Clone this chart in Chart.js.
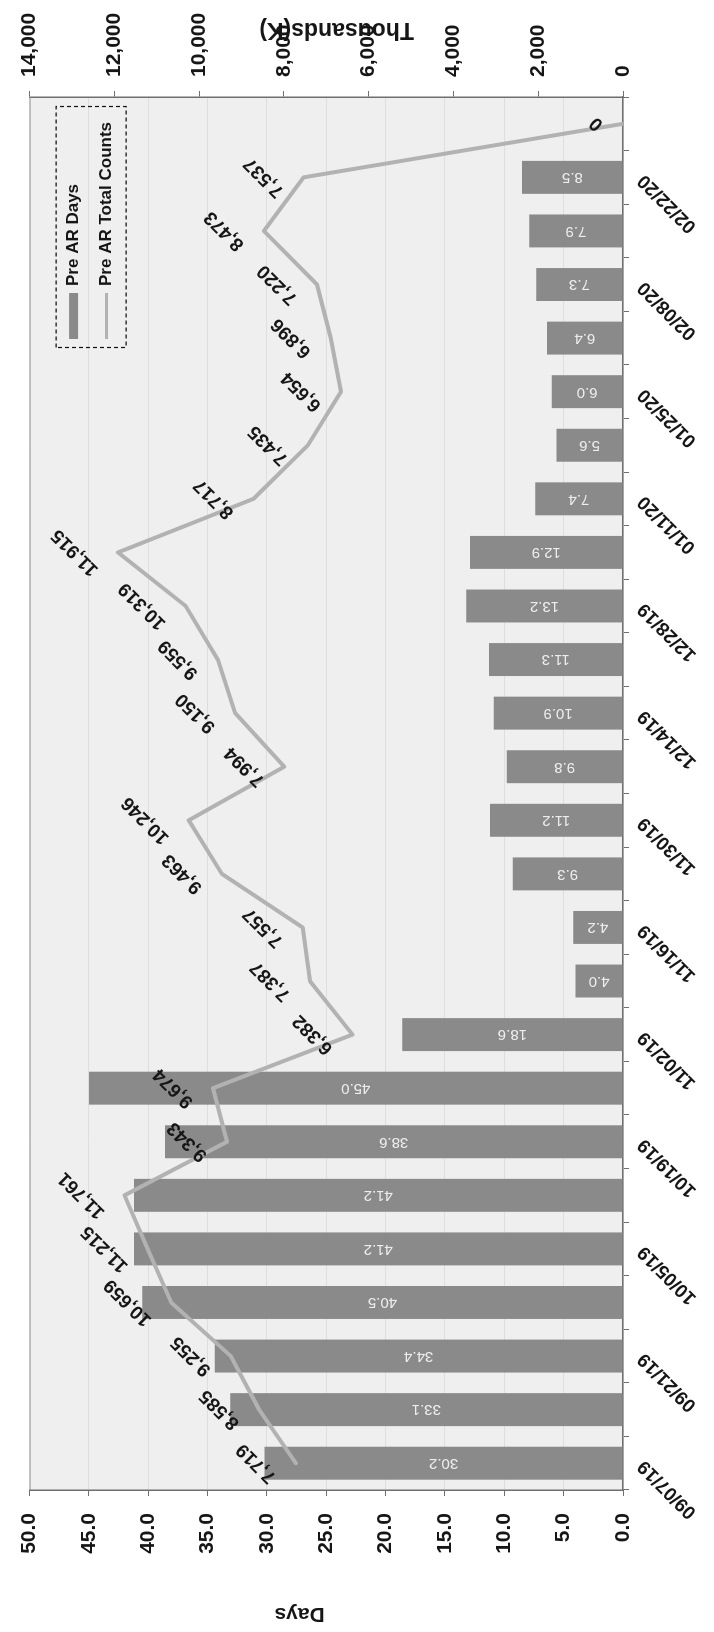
<!DOCTYPE html>
<html>
<head>
<meta charset="utf-8">
<title>Pre AR Days and Pre AR Total Counts</title>
<script src="https://cdn.jsdelivr.net/npm/chart.js@4.4.1/dist/chart.umd.min.js"></script>
<style>
  html, body { margin: 0; padding: 0; background: #ffffff; overflow: hidden; }
  body { width: 714px; height: 1632px; position: relative; }
  /* The chart is laid out landscape and turned a quarter turn counter-clockwise on the page */
  #frame {
    position: absolute; left: 0; top: 0;
    width: 1632px; height: 714px;
    transform-origin: 0 0;
    transform: translate(0, 1632px) rotate(-90deg);
  }
  canvas { display: block; }
</style>
</head>
<body>
<div id="frame"><canvas id="chart" width="1632" height="714"></canvas></div>
<script>
// Week-ending dates (category axis)
const weekDates = [
  '09/07/19', '09/14/19', '09/21/19', '09/28/19', '10/05/19', '10/12/19', '10/19/19',
  '10/26/19', '11/02/19', '11/09/19', '11/16/19', '11/23/19', '11/30/19', '12/07/19',
  '12/14/19', '12/21/19', '12/28/19', '01/04/20', '01/11/20', '01/18/20', '01/25/20',
  '02/01/20', '02/08/20', '02/15/20', '02/22/20', '02/29/20'
];

// Pre AR Days (bars, left axis)
const preArDays = [
  30.2, 33.1, 34.4, 40.5, 41.2, 41.2, 38.6, 45.0, 18.6, 4.0, 4.2, 9.3, 11.2,
  9.8, 10.9, 11.3, 13.2, 12.9, 7.4, 5.6, 6.0, 6.4, 7.3, 7.9, 8.5, null
];

// Pre AR Total Counts (line, right axis)
const preArTotalCounts = [
  7719, 8585, 9255, 10659, 11215, 11761, 9343, 9674, 6382, 7387, 7557, 9463, 10246,
  7994, 9150, 9559, 10319, 11915, 8717, 7435, 6654, 6896, 7220, 8473, 7537, 0
];

// Axis ranges and tick steps
const daysAxis = { min: 0, max: 50, step: 5 };
const countsAxis = { min: 0, max: 14000, step: 2000 };

const FONT = "'Liberation Sans', Arial, sans-serif";
const INK = '#161616';
const BAR_COLOR = '#8a8a8a';
const LINE_COLOR = '#b2b2b2';
const PLOT_BG = '#efefef';
const AXIS_COLOR = '#6e6e6e';

Chart.defaults.font.family = FONT;
Chart.defaults.color = INK;

// Light grey plot area behind the grid
const plotBackground = {
  id: 'plotBackground',
  beforeDraw(chart) {
    const { ctx, chartArea: a } = chart;
    ctx.save();
    ctx.fillStyle = PLOT_BG;
    ctx.fillRect(a.left, a.top, a.right - a.left, a.bottom - a.top);
    ctx.restore();
  },
  afterDatasetsDraw(chart) {
    const { ctx, chartArea: a } = chart;
    ctx.save();
    ctx.strokeStyle = '#9a9a9a';
    ctx.lineWidth = 1;
    ctx.beginPath();
    ctx.moveTo(a.left, a.top + 0.5);
    ctx.lineTo(a.right, a.top + 0.5);
    ctx.stroke();
    ctx.restore();
  }
};

// Value labels: inside each bar, and above each point of the line
const valueLabels = {
  id: 'valueLabels',
  afterDatasetsDraw(chart) {
    const { ctx } = chart;
    ctx.save();
    ctx.textAlign = 'center';
    ctx.textBaseline = 'middle';

    const bars = chart.getDatasetMeta(0);
    ctx.font = `15px ${FONT}`;
    ctx.fillStyle = '#eeeeee';
    bars.data.forEach((bar, i) => {
      const v = preArDays[i];
      if (v == null) return;
      ctx.save();
      ctx.translate(bar.x, (bar.y + bar.base) / 2);
      ctx.rotate(-Math.PI / 2);
      ctx.fillText(v.toFixed(1), 0, 0);
      ctx.restore();
    });

    const line = chart.getDatasetMeta(1);
    const size = 19;
    ctx.font = `bold ${size}px ${FONT}`;
    ctx.fillStyle = INK;
    line.data.forEach((pt, i) => {
      const text = preArTotalCounts[i].toLocaleString('en-US');
      const w = ctx.measureText(text).width;
      const rise = 16 + (w + size) / Math.SQRT2 / 2;
      ctx.save();
      ctx.translate(pt.x, pt.y - rise);
      ctx.rotate(-Math.PI / 4);
      ctx.fillText(text, 0, 0);
      ctx.restore();
    });
    ctx.restore();
  }
};

// Axis titles
const axisTitles = {
  id: 'axisTitles',
  afterDraw(chart) {
    const { ctx } = chart;
    const days = chart.scales.y;
    const counts = chart.scales.y1;
    ctx.save();
    ctx.fillStyle = INK;
    ctx.textAlign = 'center';
    ctx.textBaseline = 'middle';

    ctx.font = `bold 21px ${FONT}`;
    ctx.save();
    ctx.translate(days.left + 18, days.top + 270);
    ctx.rotate(-Math.PI / 2);
    ctx.fillText('Days', 0, 0);
    ctx.restore();

    ctx.font = `bold 23px ${FONT}`;
    ctx.save();
    ctx.translate(counts.right - 29, counts.top + 307);
    ctx.rotate(-Math.PI / 2);
    ctx.fillText('Thousands(K)', 0, 0);
    ctx.restore();
    ctx.restore();
  }
};

// Legend in a dashed box inside the plot area
const boxedLegend = {
  id: 'boxedLegend',
  afterDraw(chart) {
    const { ctx, chartArea: a } = chart;
    const left = a.right - 251, top = a.top + 26, width = 241, height = 70;
    ctx.save();
    ctx.strokeStyle = '#111111';
    ctx.lineWidth = 1.2;
    ctx.setLineDash([4, 3]);
    ctx.strokeRect(left + 0.5, top + 0.5, width, height);
    ctx.setLineDash([]);

    ctx.font = `bold 17px ${FONT}`;
    ctx.fillStyle = INK;
    ctx.textAlign = 'left';
    ctx.textBaseline = 'middle';
    const rows = [top + 18, top + 51];
    chart.data.datasets.forEach((ds, i) => {
      const cy = rows[i];
      if (ds.type === 'bar') {
        ctx.fillStyle = ds.backgroundColor;
        ctx.fillRect(left + 9, cy - 4.5, 46, 9);
      } else {
        ctx.strokeStyle = ds.borderColor;
        ctx.lineWidth = 3;
        ctx.beginPath();
        ctx.moveTo(left + 9, cy);
        ctx.lineTo(left + 55, cy);
        ctx.stroke();
      }
      ctx.fillStyle = INK;
      ctx.fillText(ds.label, left + 62, cy);
    });
    ctx.restore();
  }
};

new Chart(document.getElementById('chart'), {
  type: 'bar',
  data: {
    labels: weekDates,
    datasets: [
      {
        type: 'bar',
        label: 'Pre AR Days',
        data: preArDays,
        yAxisID: 'y',
        backgroundColor: BAR_COLOR,
        borderWidth: 0,
        categoryPercentage: 1,
        barPercentage: 0.615,
        order: 2
      },
      {
        type: 'line',
        label: 'Pre AR Total Counts',
        data: preArTotalCounts,
        yAxisID: 'y1',
        borderColor: LINE_COLOR,
        borderWidth: 4,
        borderJoinStyle: 'round',
        borderCapStyle: 'round',
        pointRadius: 0,
        tension: 0,
        order: 1
      }
    ]
  },
  options: {
    responsive: false,
    animation: false,
    devicePixelRatio: 1,
    layout: { padding: { top: 22, left: 0, right: 0, bottom: 0 } },
    plugins: {
      legend: { display: false },
      tooltip: { enabled: false }
    },
    scales: {
      x: {
        type: 'category',
        offset: true,
        grid: { display: true, drawOnChartArea: false, drawTicks: true, tickLength: 6, tickColor: AXIS_COLOR, offset: true },
        border: { display: true, color: AXIS_COLOR, width: 1.5 },
        ticks: {
          autoSkip: false,
          minRotation: 45,
          maxRotation: 45,
          padding: 4,
          color: INK,
          font: { size: 19, weight: 'bold' },
          callback: (value, index) => (index % 2 === 0 ? weekDates[index] : '')
        },
        afterFit: (scale) => { scale.height = 91; }
      },
      y: {
        position: 'left',
        min: daysAxis.min,
        max: daysAxis.max,
        grid: { color: '#dedede', lineWidth: 1, tickColor: AXIS_COLOR, tickLength: 6 },
        border: { display: true, color: AXIS_COLOR, width: 1.5 },
        ticks: {
          stepSize: daysAxis.step,
          padding: 17,
          color: INK,
          font: { size: 21, weight: 'bold' },
          callback: (v) => Number(v).toFixed(1)
        },
        afterFit: (scale) => { scale.width = 142; }
      },
      y1: {
        position: 'right',
        min: countsAxis.min,
        max: countsAxis.max,
        grid: { drawOnChartArea: false, tickColor: AXIS_COLOR, tickLength: 6 },
        border: { display: true, color: AXIS_COLOR, width: 1.5 },
        ticks: {
          stepSize: countsAxis.step,
          padding: 14,
          color: INK,
          font: { size: 21, weight: 'bold' },
          callback: (v) => Number(v).toLocaleString('en-US')
        },
        afterFit: (scale) => { scale.width = 97; }
      }
    }
  },
  plugins: [plotBackground, valueLabels, axisTitles, boxedLegend]
});
</script>
</body>
</html>
